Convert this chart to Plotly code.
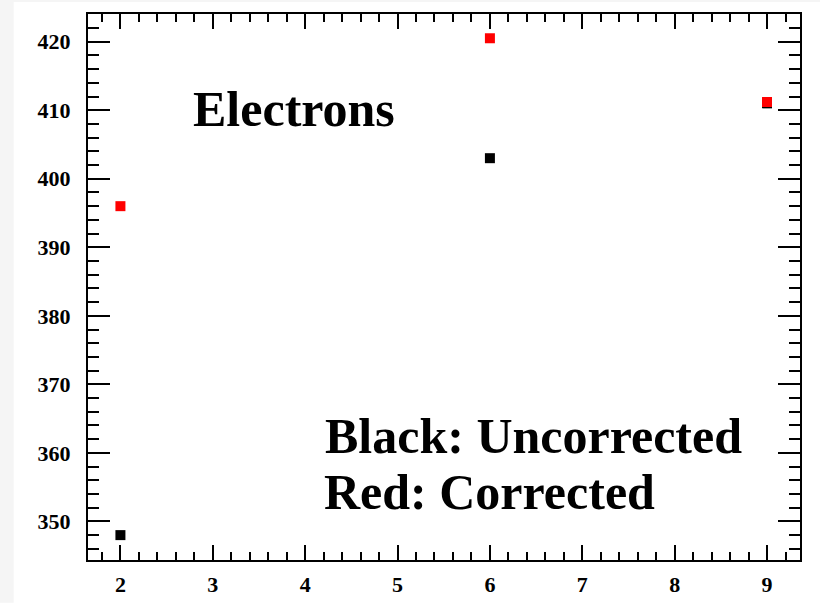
import plotly.graph_objects as go

# Data
x_vals = [2, 6, 9]
uncorrected = [348.0, 403.0, 411.0]   # black
corrected = [396.0, 420.5, 411.2]     # red

x_tickvals = [2, 3, 4, 5, 6, 7, 8, 9]
y_tickvals = [350, 360, 370, 380, 390, 400, 410, 420]

W, H = 820, 603
L, R, T, B = 88.3, 799.7, 14.0, 560.3

def px(xp):
    return (xp - L) / (R - L)

def py(yp):
    return (B - yp) / (B - T)

fig = go.Figure()
fig.add_trace(go.Scatter(x=x_vals, y=uncorrected, mode="markers",
                         marker=dict(symbol="square", size=10, color="black", line=dict(width=0)),
                         showlegend=False))
fig.add_trace(go.Scatter(x=x_vals, y=corrected, mode="markers",
                         marker=dict(symbol="square", size=10, color="#ff0000", line=dict(width=0)),
                         showlegend=False))

tickfont = dict(family="Liberation Serif", size=22, color="black", weight="bold")

fig.update_xaxes(range=[1.649, 9.357], tickvals=x_tickvals, ticktext=[str(v) for v in x_tickvals],
                 ticks="inside", ticklen=15, tickwidth=1.5, tickcolor="black",
                 showline=True, linecolor="black", linewidth=2, mirror="allticks",
                 showgrid=False, zeroline=False, tickfont=tickfont, ticklabelstandoff=4,
                 automargin=False,
                 minor=dict(ticks="inside", ticklen=8, tickwidth=1.5, tickcolor="black",
                            dtick=0.2, tick0=0, showgrid=False))
fig.update_yaxes(range=[344.37, 424.04], tickvals=y_tickvals, ticktext=[str(v) for v in y_tickvals],
                 ticks="inside", ticklen=22, tickwidth=1.5, tickcolor="black",
                 showline=True, linecolor="black", linewidth=2, mirror="allticks",
                 showgrid=False, zeroline=False, tickfont=tickfont, ticklabelstandoff=11,
                 automargin=False,
                 minor=dict(ticks="inside", ticklen=11, tickwidth=1.5, tickcolor="black",
                            dtick=2, tick0=0, showgrid=False))

afont = dict(family="Liberation Serif", size=50, color="black", weight="bold")
fig.add_annotation(text="Electrons", xref="paper", yref="paper", x=px(191), y=py(109.5),
                   xanchor="left", yanchor="middle", showarrow=False, font=afont)
fig.add_annotation(text="Black: Uncorrected", xref="paper", yref="paper", x=px(323), y=py(436),
                   xanchor="left", yanchor="middle", showarrow=False, font=afont)
fig.add_annotation(text="Red: Corrected", xref="paper", yref="paper", x=px(322), y=py(492),
                   xanchor="left", yanchor="middle", showarrow=False, font=afont)

# light gray border strips of the original image
fig.add_shape(type="rect", xref="paper", yref="paper", x0=px(0), x1=px(14), y0=py(H), y1=py(0),
              fillcolor="#f5f5f5", line=dict(width=0), layer="below")
fig.add_shape(type="rect", xref="paper", yref="paper", x0=px(0), x1=px(W), y0=py(2), y1=py(0),
              fillcolor="#f5f5f5", line=dict(width=0), layer="below")

fig.update_layout(width=W, height=H, margin=dict(l=L, r=W - R, t=T, b=H - B),
                  paper_bgcolor="white", plot_bgcolor="white")

fig.write_html("out.html")
